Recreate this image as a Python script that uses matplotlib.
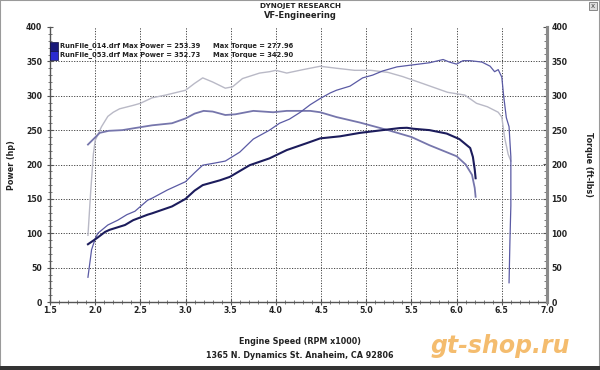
import matplotlib
matplotlib.use("Agg")
import matplotlib.pyplot as plt
from matplotlib.patches import Rectangle
from matplotlib.ticker import MultipleLocator, FormatStrFormatter

# ---- data ----
rpm_p14 = [1.92, 2.02, 2.11, 2.16, 2.33, 2.42, 2.58, 2.63, 2.85, 3.0, 3.1, 3.19, 3.38,
           3.49, 3.71, 3.93, 4.12, 4.34, 4.49, 4.71, 4.93, 5.18, 5.37, 5.45, 5.52, 5.7,
           5.89, 6.03, 6.15, 6.18, 6.2, 6.21]
hp_p14 = [84, 93, 102, 105, 112, 119, 127, 129, 139, 150, 162, 170, 177,
          182, 199, 209, 221, 231, 238, 241, 246, 250, 253, 253.4, 252, 250,
          245, 237, 224, 211, 193, 180]

rpm_t14 = [1.92, 2.05, 2.15, 2.3, 2.44, 2.63, 2.85, 3.0, 3.1, 3.2, 3.3, 3.44, 3.55,
           3.75, 3.97, 4.12, 4.38, 4.49, 4.67, 4.93, 5.24, 5.5, 5.7, 6.0, 6.1, 6.17,
           6.2, 6.21]
tq_t14 = [229, 246, 249, 250, 253, 257, 260, 267, 274, 278, 277, 272, 273,
          278, 276, 278, 278, 276, 269, 261, 250, 240, 228, 212, 200, 185,
          166, 153]

rpm_p53 = [1.92, 1.96, 2.0, 2.03, 2.14, 2.25, 2.35, 2.44, 2.58, 2.63, 2.8, 3.0, 3.1,
           3.19, 3.32, 3.44, 3.6, 3.75, 3.93, 4.04, 4.15, 4.27, 4.38, 4.49, 4.6, 4.67,
           4.82, 4.96, 5.07, 5.18, 5.34, 5.52, 5.7, 5.85, 5.92, 6.0, 6.07, 6.15, 6.28,
           6.37, 6.42, 6.46, 6.5, 6.52, 6.55, 6.58, 6.6, 6.6, 6.59, 6.58]
hp_p53 = [36, 76, 92, 100, 112, 119, 127, 132, 148, 151, 163, 175, 188,
          199, 202, 205, 218, 237, 250, 260, 266, 276, 287, 296, 304, 308,
          314, 326, 330, 336, 342, 345, 348, 352.7, 349, 346, 351, 351, 349,
          343, 335, 338, 327, 300, 268, 255, 211, 140, 90, 28]

rpm_t53 = [1.92, 1.95, 1.98, 2.0, 2.07, 2.14, 2.2, 2.27, 2.42, 2.5, 2.63, 2.78, 3.0,
           3.1, 3.19, 3.3, 3.44, 3.52, 3.63, 3.82, 3.93, 4.0, 4.12, 4.3, 4.49, 4.67,
           4.87, 5.05, 5.24, 5.4, 5.62, 5.9, 6.09, 6.22, 6.34, 6.46, 6.5, 6.53, 6.57,
           6.6]
tq_t53 = [97, 160, 215, 235, 255, 270, 276, 281, 286, 289, 297, 301, 308,
          318, 326, 320, 311, 313, 325, 333, 335, 337, 333, 338, 342.9, 340,
          337, 337, 334, 328, 318, 305, 301, 289, 284, 276, 269, 240, 215,
          205]

x_ticks = [1.5, 2.0, 2.5, 3.0, 3.5, 4.0, 4.5, 5.0, 5.5, 6.0, 6.5, 7.0]
y_ticks = [0, 50, 100, 150, 200, 250, 300, 350, 400]

legend_rows = ["RunFile_014.drf Max Power = 253.39",
               "RunFile_053.drf Max Power = 352.73"]
legend_tq = ["Max Torque = 277.96", "Max Torque = 342.90"]

# ---- figure ----
fig = plt.figure(figsize=(6.0, 3.7), dpi=100)
fig.patch.set_facecolor("white")
ax = fig.add_axes([50/600, 1-302/370, 497/600, 275/370])
ax.set_facecolor("white")

txtc = "#222222"
fs = 5.6

ax.plot(rpm_t53, tq_t53, color="#b9b9c6", lw=1.0, zorder=3)
ax.plot(rpm_t14, tq_t14, color="#7676ac", lw=1.3, zorder=4)
ax.plot(rpm_p53, hp_p53, color="#5a5aa4", lw=0.9, zorder=5)
ax.plot(rpm_p14, hp_p14, color="#1c1c5c", lw=1.5, zorder=6)

ax.set_xlim(1.5, 7.0)
ax.set_ylim(0, 400)
ax.set_xticks(x_ticks)
ax.set_yticks(y_ticks)
ax.xaxis.set_major_formatter(FormatStrFormatter("%.1f"))
ax.xaxis.set_minor_locator(MultipleLocator(0.1))
ax.yaxis.set_minor_locator(MultipleLocator(10))

for v in x_ticks[1:-1]:
    ax.axvline(v, color="#444444", lw=0.7, ls=(0, (1.2, 1.5)), zorder=1)
for v in y_ticks[1:-1]:
    ax.axhline(v, color="#444444", lw=0.7, ls=(0, (1.2, 1.5)), zorder=1)

ax.spines["top"].set_visible(False)
for s in ["left", "bottom"]:
    ax.spines[s].set_color("#555555")
    ax.spines[s].set_linewidth(1.0)
ax.spines["right"].set_color("#8a8a8a")
ax.spines["right"].set_linewidth(2.2)

ax.tick_params(axis="both", which="major", labelsize=fs, labelcolor=txtc,
               direction="inout", length=4, width=0.8, color="#555555")
ax.tick_params(axis="both", which="minor", direction="inout", length=3,
               width=0.6, color="#666666")
ax.tick_params(axis="x", pad=1)
for lab in ax.get_xticklabels() + ax.get_yticklabels():
    lab.set_fontweight("bold")

ax2 = ax.twinx()
ax2.set_ylim(0, 400)
ax2.set_yticks(y_ticks)
ax2.yaxis.set_minor_locator(MultipleLocator(10))
for s in ["top", "left", "bottom"]:
    ax2.spines[s].set_visible(False)
ax2.spines["right"].set_color("#8a8a8a")
ax2.spines["right"].set_linewidth(2.2)
ax2.tick_params(axis="y", which="major", labelsize=fs, labelcolor=txtc,
                direction="in", length=3, color="#555555", pad=3)
ax2.tick_params(axis="y", which="minor", direction="in", length=2, color="#666666")
for lab in ax2.get_yticklabels():
    lab.set_fontweight("bold")

# axis titles
fig.text(12/600, 1-165/370, "Power (hp)", rotation=90, ha="center", va="center",
         fontsize=5.8, fontweight="bold", color=txtc)
fig.text(588/600, 1-165/370, "Torque (ft-lbs)", rotation=-90, ha="center", va="center",
         fontsize=5.8, fontweight="bold", color=txtc)
fig.text(300/600, 1-342/370, "Engine Speed (RPM x1000)", ha="center", va="center",
         fontsize=5.8, fontweight="bold", color=txtc)
fig.text(300/600, 1-356/370, "1365 N. Dynamics St. Anaheim, CA 92806", ha="center",
         va="center", fontsize=5.8, fontweight="bold", color=txtc)
fig.text(300/600, 1-6/370, "DYNOJET RESEARCH", ha="center", va="center",
         fontsize=5.2, fontweight="bold", color=txtc)
fig.text(300/600, 1-16/370, "VF-Engineering", ha="center", va="center",
         fontsize=6.0, fontweight="bold", color=txtc)

# legend
box_cols = ["#1a1a7a", "#2b2bd0"]
for i, (row, tq) in enumerate(zip(legend_rows, legend_tq)):
    yc = 46 + i * 9
    fig.patches.append(Rectangle((50/600, 1-(yc+4.5)/370), 8/600, 9/370,
                                 transform=fig.transFigure, facecolor=box_cols[i],
                                 edgecolor="#101040", lw=0.5, zorder=10))
    fig.text(60/600, 1-yc/370, row, ha="left", va="center", fontsize=4.9,
             fontweight="bold", color=txtc, zorder=11)
    fig.text(213/600, 1-yc/370, tq, ha="left", va="center", fontsize=4.9,
             fontweight="bold", color=txtc, zorder=11)

# watermark
fig.text(500/600, 1-346/370, "gt-shop.ru", ha="center", va="center", fontsize=17,
         fontweight="bold", style="italic", color="#f0a030", alpha=0.7, zorder=12)

# frame, close box and bottom band
fig.patches.append(Rectangle((0, 0), 1, 1, transform=fig.transFigure, fill=False,
                             edgecolor="#9a9a9a", lw=1.5))
fig.patches.append(Rectangle((0, 0), 1, 4/370, transform=fig.transFigure,
                             facecolor="#333333", edgecolor="none"))
fig.patches.append(Rectangle((589/600, 1-10/370), 8/600, 8/370,
                             transform=fig.transFigure, facecolor="#dddddd",
                             edgecolor="#777777", lw=0.6))
fig.text(593/600, 1-6/370, "x", ha="center", va="center", fontsize=5, color="#444444")

fig.savefig("out.png", dpi=100, facecolor="white")
